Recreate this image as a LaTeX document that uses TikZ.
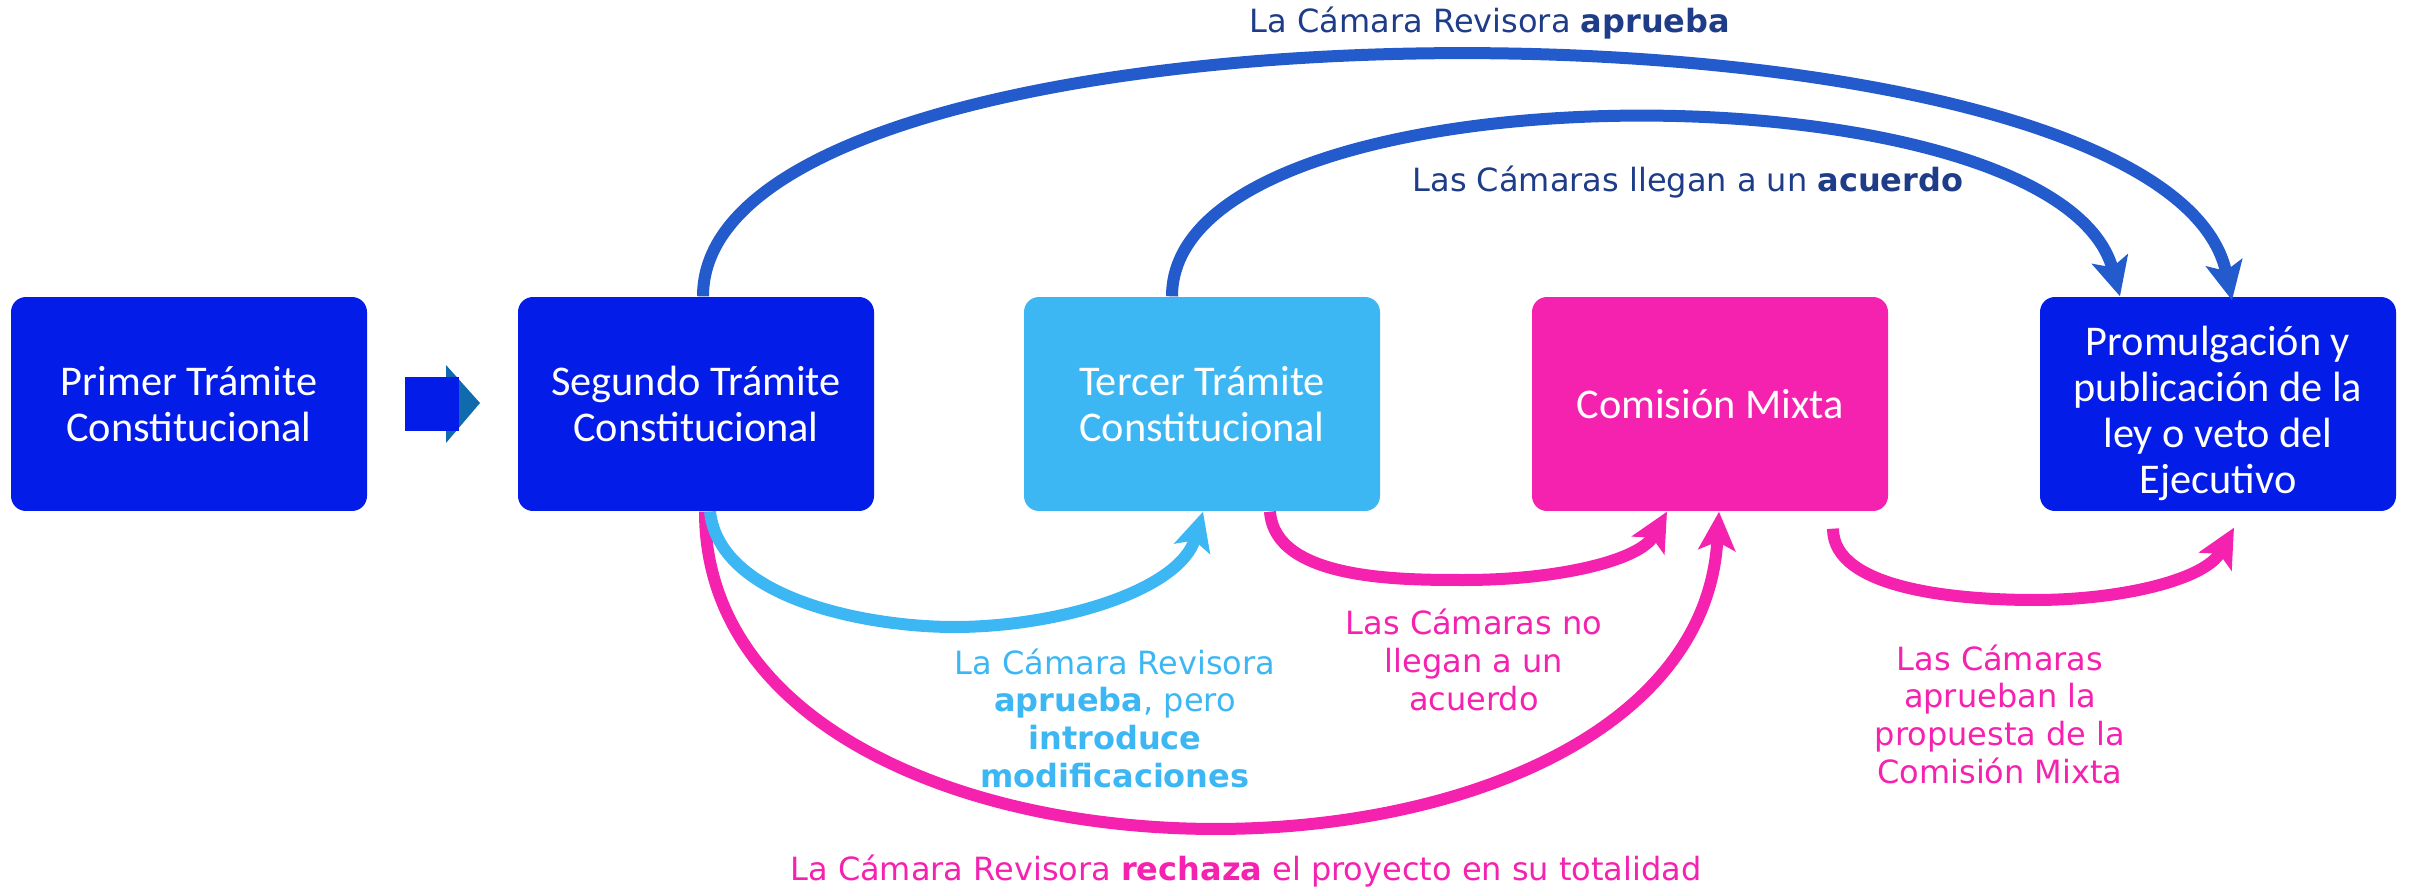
\documentclass[tikz,border=0pt]{standalone}
\usepackage{fontspec}
\setmainfont{DejaVu Sans}
\newfontfamily\boxfont{Carlito}
\usetikzlibrary{arrows.meta,calc}
\definecolor{dblue}{RGB}{3,28,232}
\definecolor{lblue}{RGB}{61,183,244}
\definecolor{mag}{RGB}{245,34,176}
\definecolor{arcblue}{RGB}{35,91,204}
\definecolor{navytxt}{RGB}{31,60,136}
\definecolor{arrteal}{RGB}{15,107,174}
\begin{document}
\begin{tikzpicture}[x=0.3pt,y=-0.3pt,
  boxtxt/.style={inner sep=0pt, align=center, text=white, font=\boxfont\fontsize{12.7}{13.8}\selectfont},
  box/.style={boxtxt, rounded corners=4.5pt, minimum width=106.8pt, minimum height=64.2pt},
  conn/.style={line width=3.6pt, -{Stealth[length=11.5pt,width=11pt,inset=2.5pt]}},
  lbl/.style={font=\fontsize{9.6}{11.3}\selectfont, align=center, inner sep=0pt}]
\useasboundingbox (0,0) rectangle (2410,894);

% boxes
\node[box, fill=dblue] (b1) at (189,404) {Primer Trámite\\Constitucional};
\node[box, fill=dblue] (b2) at (696,404) {Segundo Trámite\\Constitucional};
\node[box, fill=lblue] (b3) at (1202,404) {Tercer Trámite\\Constitucional};
\node[box, fill=mag] (b4) at (1710,404) {Comisión Mixta};
\node[box, fill=dblue] (b5) at (2218,404) {};
\node[boxtxt] (b5t) at (2218,413) {Promulgación y\\publicación de la\\ley o veto del\\Ejecutivo};

% block arrow between first and second
\fill[arrteal] (446,365) -- (480,403) -- (446,443) -- cycle;
\fill[dblue] (405,377) rectangle (459,431);

% top arcs
\draw[conn, arcblue] ($(b2.north)+(7,0)$) .. controls (703,-24) and (2164,-24) .. ($(b5.north)+(14,4)$);
\draw[conn, arcblue] ($(b3.north)+(-30,0)$) .. controls (1172,60) and (2056,60) .. ($(b5.north)+(-98,0)$);

% lower arcs
\draw[conn, mag] ($(b2.south)+(9,0)$) .. controls (705,930) and (1695,930) .. ($(b4.south)+(9,0)$);
\draw[conn, lblue] ($(b2.south)+(14,0)$) .. controls (720,600) and (870,627) .. (954,627) .. controls (1060,627) and (1180,590) .. ($(b3.south)+(1,0)$);
\draw[conn, mag] ($(b3.south)+(68,0)$) .. controls (1275,580) and (1400,580) .. (1464,580) .. controls (1560,580) and (1640,560) .. ($(b4.south)+(-43,0)$);
\draw[conn, mag] ($(b4.south)+(123,17)$) .. controls (1833,590) and (1960,600) .. (2035,600) .. controls (2120,600) and (2205,580) .. ($(b5.south)+(16,16)$);

% labels
\node[lbl, text=navytxt, anchor=base] (l1) at (1490,33) {La Cámara Revisora \textbf{aprueba}};
\node[lbl, text=navytxt, anchor=base] (l2) at (1688,192) {Las Cámaras llegan a un \textbf{acuerdo}};
\node[lbl, text=lblue] (l3) at (1115,718) {La Cámara Revisora\\\textbf{aprueba}, pero\\\textbf{introduce}\\\textbf{modificaciones}};
\node[lbl, text=mag] (l4) at (1474,660) {Las Cámaras no\\llegan a un\\acuerdo};
\node[lbl, text=mag] (l5) at (2000,714) {Las Cámaras\\aprueban la\\propuesta de la\\Comisión Mixta};
\node[lbl, text=mag, anchor=base] (l6) at (1246,880) {La Cámara Revisora \textbf{rechaza} el proyecto en su totalidad};
\end{tikzpicture}
\end{document}
